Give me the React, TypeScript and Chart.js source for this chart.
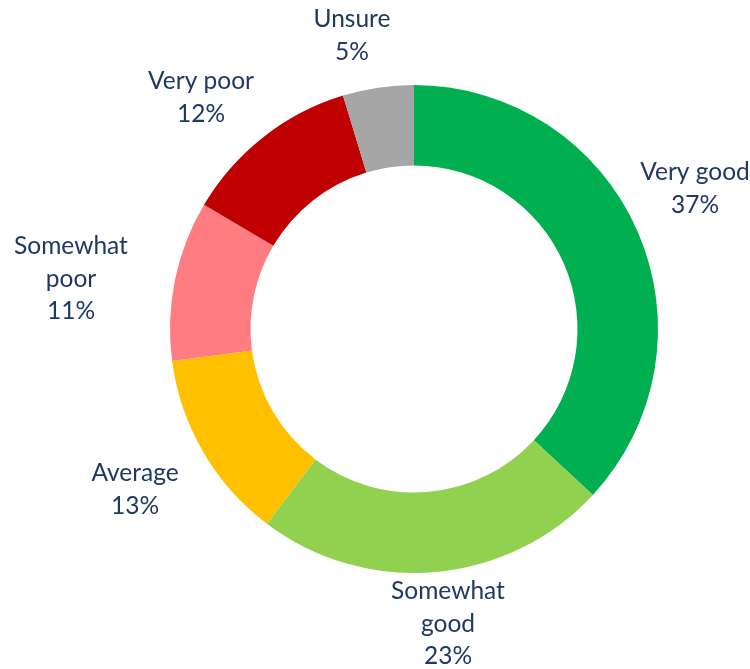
import React, { useEffect, useRef } from "react";
import { Chart, registerables } from "chart.js";

Chart.register(...registerables);

const categories = ["Very good", "Somewhat good", "Average", "Somewhat poor", "Very poor", "Unsure"];
// slice shares as measured from the slice angles (labels show the rounded percentages)
const values = [36.9, 23.4, 12.6, 10.6, 11.8, 4.7];
const labelLines = [
  ["Very good", "37%"],
  ["Somewhat", "good", "23%"],
  ["Average", "13%"],
  ["Somewhat", "poor", "11%"],
  ["Very poor", "12%"],
  ["Unsure", "5%"],
];
const colors = ["#00B050", "#92D050", "#FFC000", "#FF7C80", "#C00000", "#A6A6A6"];

// first-line baseline of each label, relative to the doughnut centre, in units of the outer radius
const labelAnchors: [number, number][] = [
  [281 / 244, -149 / 244],
  [34 / 244, 270 / 244],
  [-279 / 244, 152 / 244],
  [-343 / 244, -75 / 244],
  [-213 / 244, -240 / 244],
  [-62 / 244, -302 / 244],
];

const outsideLabels = {
  id: "outsideLabels",
  afterDatasetsDraw(chart: any) {
    const meta = chart.getDatasetMeta(0);
    const ctx = chart.ctx;
    ctx.save();
    ctx.fillStyle = "#1F3864";
    ctx.font = "24.5px Lato";
    ctx.textAlign = "center";
    ctx.textBaseline = "alphabetic";
    meta.data.forEach((arc: any, i: number) => {
      const r = arc.outerRadius;
      const [fx, fy] = labelAnchors[i];
      const x = arc.x + fx * r;
      const y0 = arc.y + fy * r;
      labelLines[i].forEach((line, j) => {
        ctx.fillText(line, x, y0 + j * 32.5);
      });
    });
    ctx.restore();
  },
};

export default function App() {
  const ref = useRef<HTMLCanvasElement>(null);
  useEffect(() => {
    document.body.style.margin = "0";
    const chart = new Chart(ref.current!, {
      type: "doughnut",
      data: {
        labels: categories,
        datasets: [
          {
            data: values,
            backgroundColor: colors,
            borderWidth: 0,
          },
        ],
      },
      options: {
        animation: false,
        responsive: false,
        cutout: "67%",
        layout: { padding: { left: 170, right: 92, top: 85, bottom: 96 } },
        plugins: { legend: { display: false }, tooltip: { enabled: false } },
      },
      plugins: [outsideLabels],
    });
    return () => chart.destroy();
  }, []);
  return <canvas ref={ref} width={750} height={669} style={{ display: "block" }} />;
}
